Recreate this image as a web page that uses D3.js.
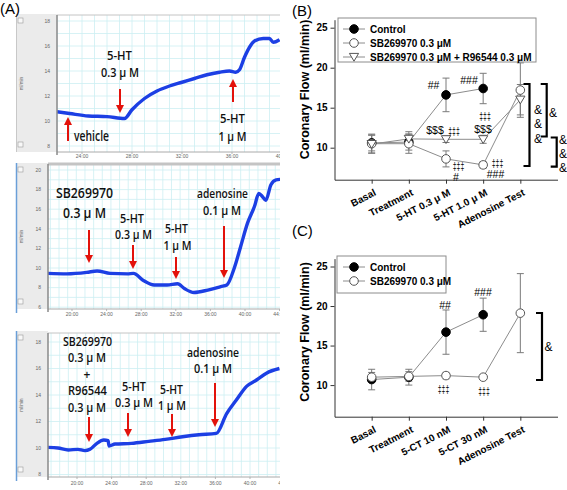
<!DOCTYPE html>
<html><head><meta charset="utf-8">
<script src="https://cdn.jsdelivr.net/npm/d3@7"></script>
<style>body{margin:0;background:#fff}svg{display:block}.gs{opacity:0.995}</style>
</head><body>
<script>
// ================= DATA =================
// Panel A traces: time (min) and coronary flow (ml/min)
const vehTime = [22.0,23.0,24.5,26,27.4,28,29,30,31,32,33,34,35,35.8,36.3,36.6,37.0,37.4,37.8,38.5,39.0,39.3,39.8];
const vehFlow = [10.74,10.6,10.4,10.35,10.2,10.9,11.8,12.4,12.8,13.1,13.4,13.7,13.9,14.0,13.9,14.1,15.1,15.9,16.4,16.6,16.6,16.3,16.5];
const sbTime = [17.2,19.4,21.7,22.9,24.4,26.4,27.1,28.3,29.5,31.0,32.2,33.0,34.1,35.7,37.2,37.9,38.8,39.5,40.3,41.1,41.6,42.0,42.4,43.0,43.6,44.1];
const sbFlow = [9.45,9.4,9.55,9.7,9.45,9.4,9.45,8.7,8.27,8.27,8.4,7.9,7.5,7.75,8.1,8.27,10.1,12.2,14.6,16.3,17.6,17.3,16.9,18.5,19.0,19.05];
const sbrTime = [16.6,17.8,19.0,20.1,20.9,21.5,22.3,23.1,23.6,23.7,24.4,26.3,28.3,30.2,32.2,34.1,36.1,37.3,38.4,39.6,40.8,41.9,43.4];
const sbrFlow = [10.05,10.0,9.85,9.9,9.8,9.9,10.35,10.6,10.55,10.15,10.3,10.35,10.5,10.65,10.85,11.0,11.1,12.6,13.6,14.65,15.15,15.65,16.0];
const a1YTicks = [8,10,12,14,16,18];
const a2YTicks = [6,8,10,12,14,16,18,20];
const a3YTicks = [8,10,12,14,16,18];
const a1XTicks = [24,28,32,36,40];
const a2XTicks = [20,24,28,32,36,40,44];
const a3XTicks = [20,24,28,32,36,40,44];

// Panel B
const catsB = ["Basal","Treatment","5-HT 0.3 \u03bc  M","5-HT 1.0 \u03bc  M","Adenosine Test"];
const ctrlB = [10.6,10.7,16.6,17.4,null];
const ctrlBErr = [1.0,1.0,2.1,1.9,null];
const sbB = [10.5,10.5,8.6,7.85,17.2];
const sbBErr = [1.2,1.2,1.0,0.4,3.4];
const sbrB = [10.45,11.1,11.05,11.05,16.0];
const sbrBErr = [1.1,0.9,0.4,0.5,1.9];
const legendB = ["Control","SB269970 0.3 \u03bcM","SB269970 0.3 \u03bcM + R96544 0.3 \u03bcM"];

// Panel C
const catsC = ["Basal","Treatment","5-CT 10 nM","5-CT 30 nM","Adenosine Test"];
const ctrlC = [10.7,11.0,16.7,18.9,null];
const ctrlCErr = [1.3,1.0,2.8,2.1,null];
const sbC = [11.0,11.1,11.2,11.0,19.1];
const sbCErr = [0.6,0.6,0.4,0.3,5.0];
const legendC = ["Control","SB269970 0.3 \u03bcM"];
const yTicksBC = [10,15,20,25];

// ================= DRAW =================
const W=567,H=490;
const FONT = "'Liberation Sans', Arial, sans-serif";
const svg = d3.select("body").append("svg").attr("width",W).attr("height",H)
  .attr("font-family",FONT);
const defs = svg.append("defs");

const RED = "#e3120b", BLUE = "#1c3fe4";

function drawTrace(id, cfg, time, flow, yTicks, xTicks, notes, arrows){
  const g = svg.append("g");
  const x = d3.scaleLinear().domain(cfg.xDom).range(cfg.xRange);
  const y = d3.scaleLinear().domain(cfg.yDom).range(cfg.yRange);
  g.append("rect").attr("x",cfg.left).attr("y",cfg.top).attr("width",cfg.px0-cfg.left).attr("height",cfg.py1-cfg.top).attr("fill","#ebebeb");
  if(cfg.blue) g.append("line").attr("x1",cfg.left+0.5).attr("x2",cfg.left+0.5).attr("y1",cfg.top).attr("y2",cfg.py1+4).attr("stroke","#6a9fd8").attr("stroke-width",1.5);
  else g.append("line").attr("x1",cfg.left+0.5).attr("x2",cfg.left+0.5).attr("y1",cfg.top).attr("y2",cfg.py1).attr("stroke","#c8c8c8");
  [cfg.top+4, cfg.py1-10].forEach(by=>{
    g.append("rect").attr("x",cfg.left+2).attr("y",by).attr("width",5).attr("height",5).attr("fill","#f8f8f8").attr("stroke","#999").attr("stroke-width",0.6);
  });
  g.append("text").attr("transform",`translate(${cfg.left+7},${(cfg.py0+cfg.py1)/2}) rotate(-90)`)
    .attr("text-anchor","middle").attr("font-size",4.5).attr("fill","#666").text("ml/min");
  g.append("rect").attr("x",cfg.px0).attr("y",cfg.py0).attr("width",cfg.px1-cfg.px0).attr("height",cfg.py1-cfg.py0).attr("fill","#fff");
  defs.append("clipPath").attr("id",id).append("rect").attr("x",cfg.px0).attr("y",cfg.py0-2).attr("width",cfg.px1-cfg.px0).attr("height",cfg.py1-cfg.py0+14);
  const pg = g.append("g").attr("clip-path",`url(#${id})`);
  const t0 = x.invert(cfg.px0), t1 = x.invert(cfg.px1);
  d3.range(Math.ceil(t0*2)/2, t1, 1).forEach(t=>{
    pg.append("line").attr("x1",x(t)).attr("x2",x(t)).attr("y1",cfg.py0).attr("y2",cfg.py1).attr("stroke","#cdeff2").attr("stroke-width",0.8);
  });
  const v0 = y.invert(cfg.py1), v1 = y.invert(cfg.py0);
  d3.range(Math.ceil(v0), v1, 1).forEach(v=>{
    pg.append("line").attr("x1",cfg.px0).attr("x2",cfg.px1).attr("y1",y(v)).attr("y2",y(v)).attr("stroke","#cdeff2").attr("stroke-width",0.8);
  });
  g.append("line").attr("x1",cfg.px0).attr("x2",cfg.px1).attr("y1",cfg.py0).attr("y2",cfg.py0).attr("stroke","#c4c4c4").attr("stroke-width",cfg.topW||1);
  g.append("line").attr("x1",cfg.px0).attr("x2",cfg.px1).attr("y1",cfg.py1).attr("y2",cfg.py1).attr("stroke","#aaa").attr("stroke-width",1);
  g.append("line").attr("x1",cfg.px0).attr("x2",cfg.px0).attr("y1",cfg.py0).attr("y2",cfg.py1+3).attr("stroke","#8a8a8a").attr("stroke-width",1.5);
  yTicks.forEach(v=>{
    g.append("text").attr("x",cfg.px0-7).attr("y",y(v)).attr("dy","0.35em").attr("text-anchor","end")
      .attr("font-size",5).attr("fill","#666").text(v);
  });
  xTicks.forEach(t=>{
    pg.append("text").attr("x",x(t)).attr("y",cfg.labY).attr("text-anchor","middle")
      .attr("font-size",5).attr("fill","#666").text(t+":00");
    pg.append("line").attr("x1",x(t)).attr("x2",x(t)).attr("y1",cfg.py1).attr("y2",cfg.py1+2).attr("stroke","#888").attr("stroke-width",0.6);
  });
  const pts = time.map((t,i)=>[t,flow[i]]);
  pg.append("path").datum(pts).attr("fill","none").attr("stroke",BLUE).attr("stroke-width",3.4)
    .attr("stroke-linejoin","round").attr("d",d3.line().x(d=>x(d[0])).y(d=>y(d[1])).curve(d3.curveMonotoneX));
  arrows.forEach(a=>{
    const dir = a[2] > a[1] ? 1 : -1;
    const tipY = a[2], baseY = a[2] - dir*8;
    g.append("line").attr("x1",a[0]).attr("x2",a[0]).attr("y1",a[1]).attr("y2",baseY).attr("stroke",RED).attr("stroke-width",2);
    g.append("path").attr("d",`M${a[0]-4},${baseY} L${a[0]+4},${baseY} L${a[0]},${tipY} Z`).attr("fill",RED);
  });
  notes.forEach(n=>{
    const t = g.append("text").attr("x",n[1]).attr("y",n[2]).attr("dy","0.36em").attr("text-anchor","middle")
      .attr("font-family","'Open Sans', sans-serif").attr("font-weight",600).attr("font-size",n[4]).attr("fill","#111").text(n[0]);
    if(n[3]) t.attr("textLength",n[3]).attr("lengthAdjust","spacingAndGlyphs");
  });
}

drawTrace("c1",{left:16,top:14,px0:57,px1:280,py0:15,py1:152,xDom:[24,36],xRange:[82,232],yDom:[10,18],yRange:[121,21],labY:158},
  vehTime, vehFlow, a1YTicks, a1XTicks,
  [["vehicle",91.5,136,35,13.5],["5-HT",119.5,55,25,13],["0.3 \u03bc M",120,72,38,13],["5-HT",232.5,118,25,13],["1 \u03bc M",232.5,136,28,13]],
  [[68,141,117],[120,89,113],[233,102,79]]);

drawTrace("c2",{left:16,top:163,px0:48,px1:280,py0:164,py1:309,xDom:[20,40],xRange:[72,245],yDom:[10,20],yRange:[268,170],labY:316,blue:true,topW:3},
  sbTime, sbFlow, a2YTicks, a2XTicks,
  [["SB269970",84.5,193,57,15],["0.3 \u03bc M",84.5,213,43,15],["5-HT",132,218,24,12.5],["0.3 \u03bc M",133.5,234,37,12.5],
   ["5-HT",176.5,228,23,12.5],["1 \u03bc M",177.5,245,28,12.5],["adenosine",222.5,193,51,12.5],["0.1 \u03bc M",222,210,38,12.5]],
  [[89,230,263],[133,245,269],[176,257,279],[224,226,278]]);

drawTrace("c3",{left:16,top:331,px0:48,px1:280,py0:333,py1:477,xDom:[20,40],xRange:[77,250],yDom:[10,18],yRange:[448,342],labY:485,blue:true},
  sbrTime, sbrFlow, a3YTicks, a3XTicks,
  [["SB269970",87.5,342,49,12],["0.3 \u03bc M",87,358,38,12],["+",87,374.5,null,12],["R96544",87.5,391,39,12],["0.3 \u03bc M",87,408,38,12],
   ["5-HT",134,387,24,12],["0.3 \u03bc M",134,402.5,38,12],["5-HT",171.5,390,23,12],["1 \u03bc M",172,405.5,28,12],
   ["adenosine",213,352,52,12.5],["0.1 \u03bc M",213,368,38,12.5]],
  [[89,417,442],[128,413,437],[172,414,437],[215,383,427]]);

svg.append("text").attr("x",0).attr("y",14).attr("font-size",15).text("(A)");
svg.append("text").attr("x",292).attr("y",16).attr("font-size",15).text("(B)");
svg.append("text").attr("x",292).attr("y",236).attr("font-size",15).text("(C)");

function triPath(cx,cy){return `M${cx-4.6},${cy-3.6} L${cx+4.6},${cy-3.6} L${cx},${cy+4.2} Z`;}

function drawDose(cfg, cats, series, legend, notes, brackets){
  const g = svg.append("g");
  const x = d3.scaleLinear().domain([-1,5]).range([334.5,557.5]);
  const y = d3.scaleLinear().domain([6,26]).range(cfg.yRange);
  const ya = g.append("g").attr("transform","translate(334.5,0)")
    .call(d3.axisLeft(y).tickValues(yTicksBC).tickSize(4).tickSizeOuter(0).tickPadding(3));
  ya.selectAll("text").attr("font-size",10).attr("font-weight","bold").attr("font-family",FONT);
  const xa = g.append("g").attr("transform",`translate(0,${y(6)})`)
    .call(d3.axisBottom(x).tickValues([0,1,2,3,4]).tickFormat(i=>cats[i]).tickSize(4).tickSizeOuter(0));
  xa.selectAll("text").attr("font-size",10).attr("font-weight","bold").attr("font-family",FONT)
    .attr("text-anchor","end").attr("x",0).attr("y",0).attr("dy","0.35em").attr("transform","translate(3,12) rotate(-27)");
  g.selectAll(".domain, .tick line").attr("stroke","#333");
  g.append("text").attr("transform",`translate(305,${cfg.labelY}) rotate(-90)`).attr("text-anchor","middle")
    .attr("dy","0.35em").attr("font-size",12.5).attr("font-weight","bold").text("Coronary Flow (ml/min)");
  series.forEach(s=>{
    const pts = s.v.map((v,i)=>[i,v]).filter(d=>d[1]!=null);
    g.append("path").datum(pts).attr("fill","none").attr("stroke","#8c8c8c").attr("stroke-width",1)
      .attr("d",d3.line().x(d=>x(d[0])).y(d=>y(d[1])));
  });
  series.forEach(s=>{
    s.v.forEach((v,i)=>{
      if(v==null) return;
      const e = s.e[i], cx = x(i);
      const eg = g.append("g").attr("stroke","#7a7a7a").attr("stroke-width",1);
      eg.append("line").attr("x1",cx).attr("x2",cx).attr("y1",y(v-e)).attr("y2",y(v+e));
      eg.append("line").attr("x1",cx-3.5).attr("x2",cx+3.5).attr("y1",y(v-e)).attr("y2",y(v-e));
      eg.append("line").attr("x1",cx-3.5).attr("x2",cx+3.5).attr("y1",y(v+e)).attr("y2",y(v+e));
    });
  });
  const marker = (sel, type, cx, cy)=>{
    if(type==="tri") sel.append("path").attr("d",triPath(cx,cy)).attr("fill","#fff").attr("stroke","#555").attr("stroke-width",1);
    else sel.append("circle").attr("cx",cx).attr("cy",cy).attr("r",4.3)
      .attr("fill",type==="filled"?"#000":"#fff").attr("stroke",type==="filled"?"#000":"#555").attr("stroke-width",1);
  };
  series.forEach(s=>{
    s.v.forEach((v,i)=>{ if(v!=null) marker(g, s.type, x(i), y(v)); });
  });
  const lg = g.append("g");
  lg.append("rect").attr("x",cfg.leg[0]).attr("y",cfg.leg[1]).attr("width",cfg.leg[2]).attr("height",cfg.leg[3])
    .attr("fill","#fff").attr("stroke","#8c8c8c").attr("stroke-width",1);
  legend.forEach((t,i)=>{
    const ry = cfg.leg[1]+11+i*14;
    lg.append("line").attr("x1",343).attr("x2",365).attr("y1",ry).attr("y2",ry).attr("stroke","#8c8c8c");
    marker(lg, series[i].type, 354, ry);
    lg.append("text").attr("x",370).attr("y",ry).attr("dy","0.35em").attr("font-size",10).attr("font-weight","bold").text(t);
  });
  const ng = g.append("g").attr("class","gs");
  notes.forEach(n=>{
    const dag = n[0].includes("\u2021");
    const t = ng.append("text").attr("x",n[1]).attr("y",n[2]).attr("dy","0.36em").attr("text-anchor","middle")
      .attr("font-family",FONT).attr("font-weight","normal")
      .attr("font-size",dag?10.5:10.5).attr("fill","#000").text(n[0]);
    if(dag) t.attr("textLength",11.5).attr("lengthAdjust","spacingAndGlyphs");
  });
  brackets.forEach(b=>{
    g.append("path").attr("d",`M${b.x-6},${b.y1} L${b.x},${b.y1} L${b.x},${b.y2} L${b.x-6},${b.y2}`)
      .attr("fill","none").attr("stroke","#000").attr("stroke-width",2.2);
    b.amps.forEach(ay=>{
      ng.append("text").attr("x",b.ax).attr("y",ay).attr("dy","0.36em").attr("text-anchor","middle")
        .attr("font-size",12).attr("fill","#000").text("&");
    });
  });
}

drawDose({yRange:[179.7,19.7], labelY:89.5, leg:[338,18,198,44]}, catsB,
  [{v:ctrlB,e:ctrlBErr,type:"filled"},{v:sbB,e:sbBErr,type:"open"},{v:sbrB,e:sbrBErr,type:"tri"}],
  legendB,
  [["##",433.5,85],["###",469,80.7],["$$$",435,130.7],["\u2021\u2021\u2021",454,131],["\u2021\u2021\u2021",485,116.7],["$$$",483,129.3],
   ["\u2021\u2021\u2021",458.5,166.5],["#",456,177],["\u2021\u2021\u2021",497.5,163],["###",495.5,174]],
  [{x:529.5,y1:84,y2:166,ax:538,amps:[110,123.3,138.3]},{x:546.7,y1:84,y2:136.5,ax:553,amps:[112.7]},{x:556.7,y1:137.5,y2:166.7,ax:563,amps:[140,154,167.3]}]);

drawDose({yRange:[416.7,258.6], labelY:332, leg:[337,256,109,37]}, catsC,
  [{v:ctrlC,e:ctrlCErr,type:"filled"},{v:sbC,e:sbCErr,type:"open"}],
  legendC,
  [["##",445,305.7],["###",483,292.7],["\u2021\u2021\u2021",443.5,389],["\u2021\u2021\u2021",484,391]],
  [{x:542,y1:313,y2:380,ax:548.5,amps:[347]}]);
</script>
</body></html>
